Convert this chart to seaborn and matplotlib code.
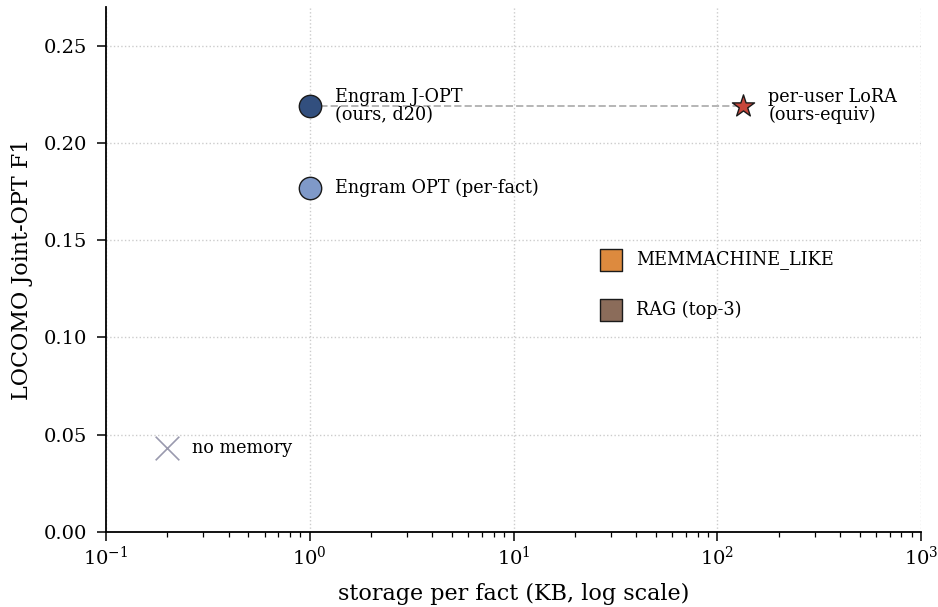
import matplotlib
matplotlib.use("Agg")
import matplotlib.pyplot as plt
import seaborn as sns
import pandas as pd
import numpy as np
from matplotlib.ticker import LogLocator, FixedLocator, FormatStrFormatter

names = ["Engram J-OPT\n(ours, d20)", "Engram OPT (per-fact)", "per-user LoRA\n(ours-equiv)",
         "MEMMACHINE_LIKE", "RAG (top-3)", "no memory"]
storage_kb = [1.0, 1.0, 134.0, 30.0, 30.0, 0.2]
f1 = [0.219, 0.177, 0.219, 0.140, 0.114, 0.043]
colors = ["#324f7e", "#7f99c8", "#c7463b", "#dd8a3e", "#8b6c5a", "#9a9aae"]
markers = ["o", "o", "*", "s", "s", "x"]
sizes = [260, 260, 280, 260, 260, 290]

df = pd.DataFrame({"name": names, "x": storage_kb, "y": f1})

sns.set_theme(style="ticks")
plt.rcParams["font.family"] = ["DejaVu Serif"]
plt.rcParams["text.color"] = "black"
plt.rcParams["axes.labelcolor"] = "black"
plt.rcParams["xtick.color"] = "black"
plt.rcParams["ytick.color"] = "black"

fig, ax = plt.subplots(figsize=(9.38, 6.07), dpi=100)

# dashed connector between J-OPT and LoRA
ax.plot([storage_kb[0], storage_kb[2]], [f1[0], f1[2]], ls="--", color="#b5b5b5",
        lw=1.4, zorder=1)

for i, row in df.iterrows():
    sub = df.iloc[[i]]
    if markers[i] == "x":
        sns.scatterplot(data=sub, x="x", y="y", ax=ax, marker="x", s=sizes[i],
                        color=colors[i], linewidth=1.2, zorder=3, legend=False)
    else:
        sns.scatterplot(data=sub, x="x", y="y", ax=ax, marker=markers[i], s=sizes[i],
                        color=colors[i], edgecolor="#1a1a1a", linewidth=1.0,
                        zorder=3, legend=False)
    ax.annotate(row["name"], (row["x"], row["y"]), xytext=(18, 0),
                textcoords="offset points", va="center", ha="left",
                fontsize=12.7, linespacing=1.0, color="black")

ax.set_xscale("log")
ax.set_xlim(0.1, 1000)
ax.set_ylim(0, 0.27)
ax.yaxis.set_major_locator(FixedLocator([0, 0.05, 0.10, 0.15, 0.20, 0.25]))
ax.yaxis.set_major_formatter(FormatStrFormatter("%.2f"))
ax.xaxis.set_major_locator(LogLocator(base=10, numticks=10))
ax.xaxis.set_minor_locator(LogLocator(base=10, subs=np.arange(2, 10), numticks=20))

ax.grid(True, which="major", ls=":", color="#cccccc", lw=1.0)
ax.set_axisbelow(True)
sns.despine(ax=ax)
for sp in ["left", "bottom"]:
    ax.spines[sp].set_linewidth(1.3)
    ax.spines[sp].set_color("black")
ax.tick_params(axis="both", which="major", labelsize=14, length=6.5, width=1.1, color="black")
ax.tick_params(axis="y", which="major", pad=7)
ax.tick_params(axis="x", which="minor", length=3.5, width=0.9, color="black")

ax.set_xlabel("storage per fact (KB, log scale)", fontsize=16, labelpad=10)
ax.set_ylabel("LOCOMO Joint-OPT F1", fontsize=16, labelpad=8)

fig.subplots_adjust(left=0.113, right=0.982, top=0.988, bottom=0.124)
fig.savefig("out.png", dpi=100)
